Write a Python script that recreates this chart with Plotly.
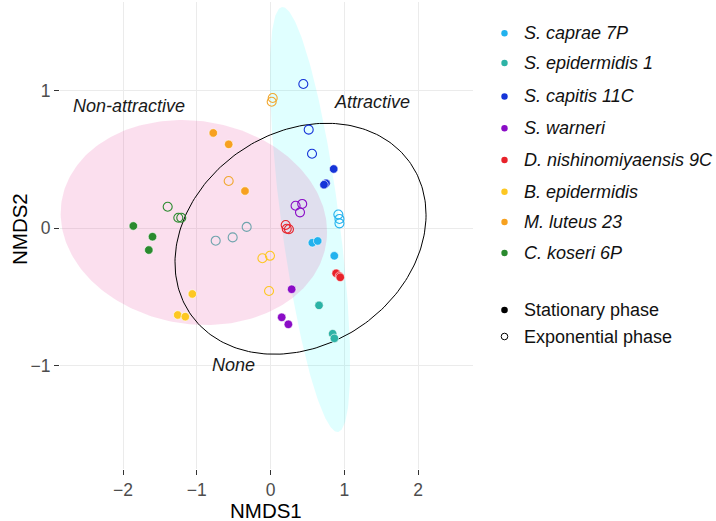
import numpy as np
import plotly.graph_objects as go

# ---------------- data ----------------
species = ["S. caprae 7P", "S. epidermidis 1", "S. capitis 11C", "S. warneri",
           "D. nishinomiyaensis 9C", "B. epidermidis", "M. luteus 23", "C. koseri 6P"]
colors = ["#22b2ee", "#2db3a6", "#1534d8", "#8a0cc6",
          "#e8222a", "#fdc722", "#f7a11f", "#2a8a2e"]
exp_colors = ["#22b2ee", "#6fa4ad", "#1534d8", "#8a0cc6",
              "#e8222a", "#fdc722", "#f0a830", "#2a8a2e"]

# stationary phase (filled)
stat_x = [[0.567, 0.640, 0.865],
          [0.658, 0.843, 0.866],
          [0.857, 0.753, 0.725],
          [0.287, 0.152, 0.242],
          [0.890, 0.935, 0.946],
          [-1.060, -1.258, -1.155],
          [-0.776, -0.567, -0.346],
          [-1.860, -1.600, -1.650]]
stat_y = [[-0.105, -0.092, -0.200],
          [-0.560, -0.766, -0.800],
          [0.431, 0.327, 0.317],
          [-0.443, -0.647, -0.698],
          [-0.327, -0.347, -0.356],
          [-0.477, -0.630, -0.642],
          [0.693, 0.610, 0.271],
          [0.017, -0.061, -0.158]]
# exponential phase (open)
exp_x = [[0.920, 0.935, 0.935],
         [-0.743, -0.513, -0.323],
         [0.445, 0.518, 0.563],
         [0.340, 0.430, 0.400],
         [0.206, 0.250, 0.220],
         [-0.110, -0.007, -0.020],
         [-0.567, 0.030, 0.016],
         [-1.394, -1.250, -1.210]]
exp_y = [[0.100, 0.068, 0.036],
         [-0.090, -0.066, 0.010],
         [1.049, 0.717, 0.542],
         [0.164, 0.177, 0.116],
         [0.024, -0.007, -0.003],
         [-0.218, -0.200, -0.456],
         [0.344, 0.947, 0.920],
         [0.157, 0.077, 0.077]]

# ellipses: centre and two conjugate half-axis vectors (data units)
ell_attr_c, ell_attr_u, ell_attr_v = (0.536, 0.064), (-0.380, 1.544), (0.390, 0.028)
ell_non_c, ell_non_u, ell_non_v = (-1.039, 0.042), (1.806, -0.067), (0.0, 0.742)
ell_none_c, ell_none_u, ell_none_v = (0.407, -0.076), (1.702, 0.174), (0.0, 0.821)

group_labels = ["Non-attractive", "Attractive", "None"]
group_label_x = [-1.919, 1.379, -0.508]
group_label_y = [0.888, 0.918, -0.993]

phase_labels = ["Stationary phase", "Exponential phase"]

# ---------------- figure ----------------
FONT = "Liberation Sans, Arial, Helvetica, sans-serif"
W, H = 716, 521
PL, PR, PT, PB = 60, 473, 2, 469


def ellipse(c, u, v, n=240):
    t = np.linspace(0, 2 * np.pi, n)
    return (c[0] + u[0] * np.cos(t) + v[0] * np.sin(t),
            c[1] + u[1] * np.cos(t) + v[1] * np.sin(t))


fig = go.Figure()

ex, ey = ellipse(ell_attr_c, ell_attr_u, ell_attr_v)
fig.add_trace(go.Scatter(x=ex, y=ey, mode="lines", fill="toself",
                         fillcolor="rgba(0,255,255,0.12)", line=dict(width=0),
                         hoverinfo="skip", showlegend=False))
ex, ey = ellipse(ell_non_c, ell_non_u, ell_non_v)
fig.add_trace(go.Scatter(x=ex, y=ey, mode="lines", fill="toself",
                         fillcolor="rgba(231,41,138,0.15)", line=dict(width=0),
                         hoverinfo="skip", showlegend=False))
ex, ey = ellipse(ell_none_c, ell_none_u, ell_none_v)
fig.add_trace(go.Scatter(x=ex, y=ey, mode="lines",
                         line=dict(color="black", width=1),
                         hoverinfo="skip", showlegend=False))

for i, sp in enumerate(species):
    fig.add_trace(go.Scatter(x=exp_x[i], y=exp_y[i], mode="markers", name=sp,
                             marker=dict(symbol="circle-open", size=9,
                                         color=exp_colors[i], line=dict(width=1.1)),
                             showlegend=False))
for i, sp in enumerate(species):
    fig.add_trace(go.Scatter(x=stat_x[i], y=stat_y[i], mode="markers", name=sp,
                             marker=dict(symbol="circle", size=8.5, color=colors[i],
                                         line=dict(width=0.6, color="white")),
                             showlegend=False))

annotations = []
for lab, x, y in zip(group_labels, group_label_x, group_label_y):
    annotations.append(dict(x=x, y=y, xref="x", yref="y", text="<i>%s</i>" % lab,
                            showarrow=False,
                            font=dict(family=FONT, size=18, color="#1a1a1a"),
                            xanchor="center", yanchor="middle"))


def pxx(px):
    return (px - PL) / (PR - PL)


def pxy(py):
    return (PB - py) / (PB - PT)


shapes = []
legend_y = [33.3, 63.0, 96.5, 128.3, 160.0, 191.7, 222.0, 253.0]
for i, sp in enumerate(species):
    shapes.append(dict(type="circle", xref="paper", yref="paper",
                       xsizemode="pixel", ysizemode="pixel",
                       xanchor=pxx(504.5), yanchor=pxy(legend_y[i]),
                       x0=-3.2, x1=3.2, y0=-3.2, y1=3.2,
                       fillcolor=colors[i], line=dict(width=0)))
    annotations.append(dict(x=pxx(522), y=pxy(legend_y[i]), xref="paper", yref="paper",
                            text="<i>%s</i>" % sp, showarrow=False,
                            xanchor="left", yanchor="middle",
                            font=dict(family=FONT, size=18, color="#111111")))
phase_y = [310.0, 336.5]
shapes.append(dict(type="circle", xref="paper", yref="paper",
                   xsizemode="pixel", ysizemode="pixel",
                   xanchor=pxx(504.5), yanchor=pxy(phase_y[0]),
                   x0=-3.3, x1=3.3, y0=-3.3, y1=3.3,
                   fillcolor="black", line=dict(width=0)))
shapes.append(dict(type="circle", xref="paper", yref="paper",
                   xsizemode="pixel", ysizemode="pixel",
                   xanchor=pxx(504.5), yanchor=pxy(phase_y[1]),
                   x0=-3.3, x1=3.3, y0=-3.3, y1=3.3,
                   fillcolor="rgba(0,0,0,0)", line=dict(width=1, color="black")))
for lab, y in zip(phase_labels, phase_y):
    annotations.append(dict(x=pxx(522), y=pxy(y), xref="paper", yref="paper",
                            text=lab, showarrow=False, xanchor="left", yanchor="middle",
                            font=dict(family=FONT, size=18, color="#111111")))

# axis titles
annotations.append(dict(x=pxx(266), y=pxy(510.5), xref="paper", yref="paper",
                        text="NMDS1", showarrow=False, xanchor="center", yanchor="middle",
                        font=dict(family=FONT, size=20.5, color="black")))
annotations.append(dict(x=pxx(19), y=pxy(229), xref="paper", yref="paper",
                        text="NMDS2", showarrow=False, xanchor="center", yanchor="middle",
                        textangle=-90, font=dict(family=FONT, size=20.5, color="black")))

x_min = (PL - 270.5) / 73.75
x_max = (PR - 270.5) / 73.75
y_max = (228.3 - PT) / 137.6
y_min = (228.3 - PB) / 137.6

axis_common = dict(showgrid=True, gridcolor="#ebebeb", gridwidth=1, zeroline=False,
                   showline=False, ticks="outside", ticklen=5, tickwidth=1.2,
                   tickcolor="#333333", dtick=1,
                   tickfont=dict(family=FONT, size=17.5, color="#4d4d4d"))

fig.update_layout(
    width=W, height=H,
    margin=dict(l=PL, r=W - PR, t=PT, b=H - PB),
    plot_bgcolor="white", paper_bgcolor="white",
    xaxis=dict(range=[x_min, x_max], tick0=0, **axis_common),
    yaxis=dict(range=[y_min, y_max], tick0=0, **axis_common),
    showlegend=False,
    annotations=annotations,
    shapes=shapes,
)

fig.write_html("out.html", config={"displayModeBar": False},
               post_script="document.body.style.margin='0';"
                           "document.body.style.overflow='hidden';")
